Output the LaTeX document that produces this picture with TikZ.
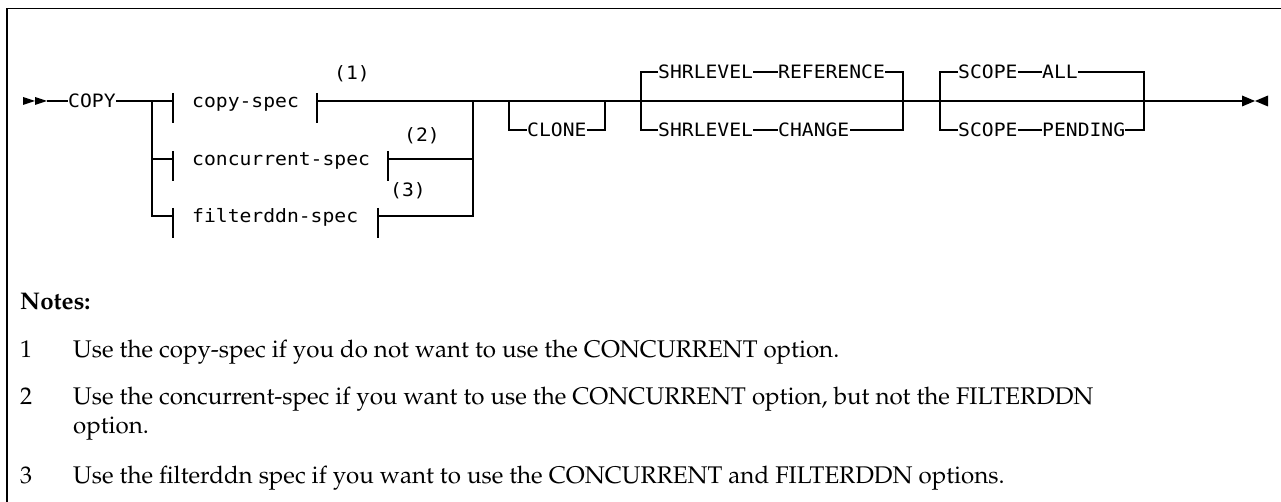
\documentclass[tikz,border=0pt]{standalone}
\usepackage[T1]{fontenc}
\usepackage{fontspec}
\newfontfamily\dgfam[FakeStretch=1.07]{DejaVu Sans Mono}
\newcommand{\dg}{\dgfam\fontsize{18.4}{20}\selectfont}
\newcommand{\nf}{\fontencoding{T1}\fontfamily{ppl}\fontsize{24.1}{28}\selectfont}
\begin{document}
\begin{tikzpicture}[x=1pt,y=-1pt,
  ln/.style={line width=1.2pt, line join=miter},
  frame/.style={line width=1.6pt},
  syn/.style={font=\dg, inner xsep=0pt, inner ysep=0pt, text height=14pt, text depth=1pt, anchor=west},
  fn/.style={font=\dg, inner sep=0pt, text height=14pt, text depth=1pt, anchor=center},
  note/.style={font=\nf, inner sep=0pt, anchor=base west}]
\useasboundingbox (0,0) rectangle (1281,502);
% frame
\coordinate (fbl) at (7,502);
\coordinate (ftl) at (7,8.5);
\coordinate (ftr) at (1281,8.5);
\draw[frame] (fbl) -- (ftl) -- (ftr);
% start marker
\fill (23,97) -- (35,101) -- (23,105) -- cycle;
\fill (35,97) -- (47,101) -- (35,105) -- cycle;
\coordinate (s) at (47,101);
\node[syn] (copy) at (68,101) {COPY};
% first group
\coordinate (L1) at (152,101);
\coordinate (L2) at (152,159);
\coordinate (L3) at (152,216);
\coordinate (t1) at (173,101);
\coordinate (t2) at (173,159);
\coordinate (t3) at (173,216);
\node[syn] (cs) at (192,101) {copy-spec};
\node[syn] (cc) at (192,159) {concurrent-spec};
\node[syn] (fs) at (192,216) {filterddn-spec};
\coordinate (u1) at (317,101);
\coordinate (u2) at (388,159);
\coordinate (u3) at (378,216);
\coordinate (R1) at (473,101);
\coordinate (R2) at (473,159);
\coordinate (R3) at (473,216);
\node[fn] (n1) at (352,73) {(1)};
\node[fn] (n2) at (422,135) {(2)};
\node[fn] (n3) at (408,190) {(3)};
\draw[ln] (s) -- (copy.west);
\draw[ln] (copy.east) -- (t1);
\draw[ln] (t3) -- (L3) -- (L1);
\draw[ln] (L2) -- (t2);
\foreach \t in {t1,t2,t3,u1,u2,u3}{
  \draw[ln] ([yshift=8pt]\t) -- ([yshift=-22pt]\t);
}
\draw[ln] (u1) -- (R1);
\draw[ln] (u2) -- (R2);
\draw[ln] (u3) -- (R3) -- (R1);
% main line
\coordinate (E) at (1242,101);
\draw[ln] (R1) -- (E);
% CLONE
\coordinate (c1) at (509,101);
\coordinate (c1d) at (509,130);
\coordinate (c2) at (605,101);
\coordinate (c2d) at (605,130);
\node[syn] (clone) at (527,130) {CLONE};
\draw[ln] (c1) -- (c1d) -- (clone.west);
\draw[ln] (clone.east) -- (c2d) -- (c2);
% SHRLEVEL
\coordinate (a1u) at (641,72);
\coordinate (a1d) at (641,130);
\coordinate (a2u) at (903,72);
\coordinate (a2d) at (903,130);
\node[syn] (shr1) at (658,72) {SHRLEVEL};
\node[syn] (ref) at (778,72) {REFERENCE};
\node[syn] (shr2) at (658,130) {SHRLEVEL};
\node[syn] (chg) at (778,130) {CHANGE};
\draw[ln] (shr1.west) -- (a1u) -- (a1d) -- (shr2.west);
\draw[ln] (shr1.east) -- (ref.west);
\draw[ln] (shr2.east) -- (chg.west);
\draw[ln] (ref.east) -- (a2u) -- (a2d) -- (chg.east);
% SCOPE
\coordinate (b1u) at (940,72);
\coordinate (b1d) at (940,130);
\coordinate (b2u) at (1144,72);
\coordinate (b2d) at (1144,130);
\node[syn] (sc1) at (958,72) {SCOPE};
\node[syn] (all) at (1042,72) {ALL};
\node[syn] (sc2) at (958,130) {SCOPE};
\node[syn] (pend) at (1042,130) {PENDING};
\draw[ln] (sc1.west) -- (b1u) -- (b1d) -- (sc2.west);
\draw[ln] (sc1.east) -- (all.west);
\draw[ln] (sc2.east) -- (pend.west);
\draw[ln] (all.east) -- (b2u) -- (b2d) -- (pend.east);
% end marker
\fill (1242,95.5) -- (1255,101) -- (1242,106.5) -- cycle;
\fill (1268,95.5) -- (1255,101) -- (1268,106.5) -- cycle;
% notes
\node[note, font=\nf\bfseries] (notes) at (20,309) {Notes:};
\node[note] (k1) at (20,357) {1};
\node[note] (x1) at (73,357) {Use the copy-spec if you do not want to use the CONCURRENT option.};
\node[note] (k2) at (20,404) {2};
\node[note] (x2) at (73,404) {Use the concurrent-spec if you want to use the CONCURRENT option, but not the FILTERDDN};
\node[note] (x2b) at (73,433) {option.};
\node[note] (k3) at (20,483) {3};
\node[note] (x3) at (73,483) {Use the filterddn spec if you want to use the CONCURRENT and FILTERDDN options.};
\end{tikzpicture}
\end{document}
